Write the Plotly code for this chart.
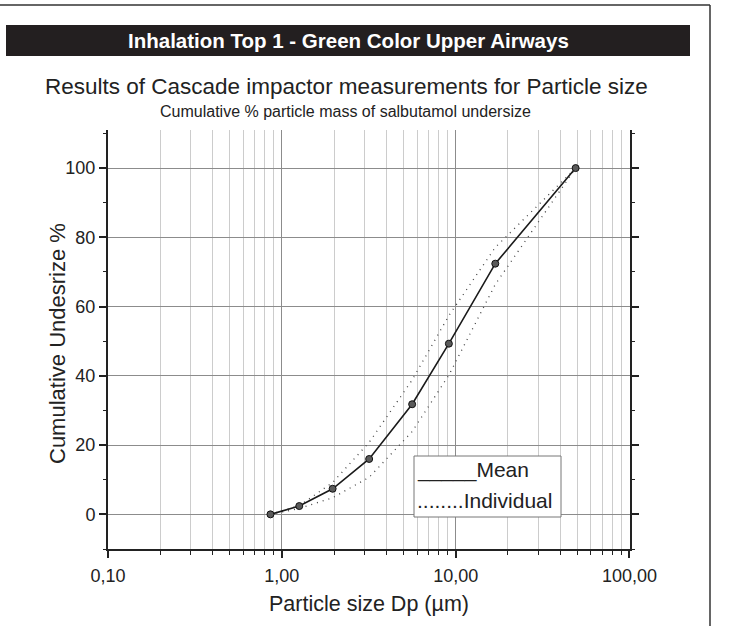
import plotly.graph_objects as go

# ---- data ----
particle_size = [0.86, 1.26, 1.96, 3.18, 5.62, 9.14, 16.9, 49.0]
mean_undersize = [0.0, 2.4, 7.4, 16.0, 31.8, 49.3, 72.4, 100.0]
individual_upper = [0.0, 2.5, 9.2, 20.8, 38.8, 57.4, 77.1, 100.0]
individual_lower = [0.0, 1.7, 4.8, 10.7, 23.9, 40.2, 66.4, 100.0]

x_tickvals = [0.1, 1, 10, 100]
x_ticktext = ["0,10", "1,00", "10,00", "100,00"]
x_minorvals = [m * d for d in (0.1, 1, 10) for m in range(2, 10)]
y_tickvals = [0, 20, 40, 60, 80, 100]

header_text = "Inhalation Top 1 - Green Color Upper Airways"
title_text = "Results of Cascade impactor measurements for Particle size"
subtitle_text = "Cumulative % particle mass of salbutamol undersize"
x_title = "Particle size Dp (µm)"
y_title = "Cumulative Undesrize %"

# ---- layout geometry (pixels) ----
W, H = 734, 626
L, R, T, B = 108, 630, 130, 549
FONT = "Liberation Sans, Arial, sans-serif"


def xp(px):
    return (px - L) / (R - L)


def yp(py):
    return (B - py) / (B - T)


fig = go.Figure()

for ys in (individual_upper, individual_lower):
    fig.add_trace(go.Scatter(
        x=particle_size, y=ys, mode="lines",
        line=dict(color="#444444", width=1.3, dash="1px,5px"),
        showlegend=False, hoverinfo="skip"))

fig.add_trace(go.Scatter(
    x=particle_size, y=mean_undersize, mode="lines+markers",
    line=dict(color="#1a1a1a", width=1.6),
    marker=dict(size=7, color="#5a5a5a", line=dict(color="#111111", width=1)),
    showlegend=False))

fig.update_layout(
    width=W, height=H,
    margin=dict(l=L, r=W - R, t=T, b=H - B),
    paper_bgcolor="white", plot_bgcolor="white",
    font=dict(family=FONT, color="#222222"),
    showlegend=False,
)

fig.update_xaxes(
    type="log", range=[-1, 2.003],
    tickvals=x_tickvals, ticktext=x_ticktext,
    tickfont=dict(size=18, color="#222222"),
    ticks="outside", ticklen=7, tickwidth=1.5, tickcolor="#222222",
    ticklabelstandoff=2,
    showline=True, linecolor="#222222", linewidth=2,
    showgrid=True, gridcolor="#8c8c8c", gridwidth=1,
    minor=dict(tickvals=x_minorvals, ticks="outside", ticklen=4,
               tickwidth=1.2, tickcolor="#222222",
               showgrid=True, gridcolor="#cccccc", gridwidth=1),
    zeroline=False,
)

fig.update_yaxes(
    range=[-10, 111],
    tickvals=y_tickvals,
    tickfont=dict(size=18, color="#222222"),
    ticks="outside", ticklen=7, tickwidth=1.5, tickcolor="#222222",
    showline=True, linecolor="#222222", linewidth=2, mirror="ticks",
    showgrid=True, gridcolor="#8c8c8c", gridwidth=1,
    minor=dict(dtick=10, tick0=0, ticks="outside", ticklen=3,
               tickwidth=1.2, tickcolor="#222222", showgrid=False),
    zeroline=False,
)

shapes = [
    # outer frame lines (top and right)
    dict(type="line", xref="paper", yref="paper", x0=xp(0), x1=xp(710),
         y0=yp(5), y1=yp(5), line=dict(color="#333333", width=1.5)),
    dict(type="line", xref="paper", yref="paper", x0=xp(710), x1=xp(710),
         y0=yp(5), y1=yp(626), line=dict(color="#333333", width=1.5)),
    # header bar
    dict(type="rect", xref="paper", yref="paper", x0=xp(6), x1=xp(690),
         y0=yp(25), y1=yp(56), fillcolor="#231f20", line=dict(width=0), layer="below"),
    # legend box
    dict(type="rect", xref="paper", yref="paper", x0=xp(414), x1=xp(561),
         y0=yp(456), y1=yp(517), fillcolor="white",
         line=dict(color="#777777", width=1), layer="above"),
]

annotations = [
    dict(text="<b>" + header_text + "</b>", x=xp(348), y=yp(40.5),
         font=dict(size=20.5, color="white", family=FONT)),
    dict(text=title_text, x=xp(346), y=yp(86),
         font=dict(size=22.5, color="#222222", family=FONT)),
    dict(text=subtitle_text, x=xp(345), y=yp(111),
         font=dict(size=16, color="#222222", family=FONT)),
    dict(text=x_title, x=xp(369), y=yp(604),
         font=dict(size=21.5, color="#222222", family=FONT)),
    dict(text=y_title, x=xp(57), y=yp(344), textangle=-90,
         font=dict(size=22, color="#222222", family=FONT)),
    dict(text="_____Mean", x=xp(415), y=yp(470), xanchor="left",
         font=dict(size=21, color="#222222", family=FONT)),
    dict(text="........Individual", x=xp(415), y=yp(500), xanchor="left",
         font=dict(size=21, color="#222222", family=FONT)),
]
for a in annotations:
    a.setdefault("xanchor", "center")
    a.update(xref="paper", yref="paper", showarrow=False, yanchor="middle")

fig.update_layout(shapes=shapes, annotations=annotations)

fig.write_html(
    "out.html",
    config={"displayModeBar": False},
    post_script="document.body.style.margin='0';document.body.style.overflow='hidden';",
)
